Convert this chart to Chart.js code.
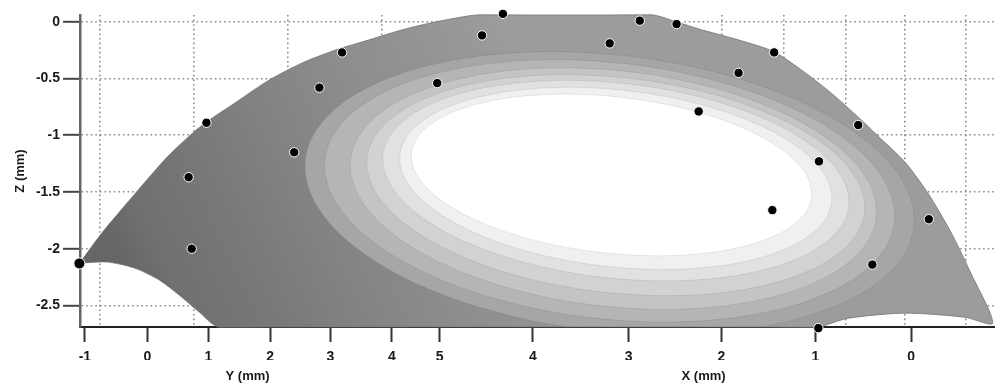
<!DOCTYPE html>
<html>
<head>
<meta charset="utf-8">
<title>Perfil Z</title>
<script src="https://cdn.jsdelivr.net/npm/chart.js@4.4.1/dist/chart.umd.min.js"></script>
<style>
    html, body { margin: 0; padding: 0; background: #fff; }
    canvas { display: block; }
</style>
</head>
<body>
<canvas id="grafico" width="1001" height="387"></canvas>
<script>
//Eje horizontal desplegado: primero Y (mm) y luego X (mm)
const tickPos = [-1.02, 0, 0.99, 2.0, 2.98, 3.98, 4.76, 6.28, 7.84, 9.35, 10.88, 12.44];
const tickText = ['-1', '0', '1', '2', '3', '4', '5', '4', '3', '2', '1', '0'];
const axisNames = ['Y (mm)', 'X (mm)'];
const axisNamePos = [1.63, 9.06];
const zTicks = [0, -0.5, -1, -1.5, -2, -2.5];
//Lineas punteadas verticales de la rejilla
const gridPos = [-0.78, 0.75, 2.28, 3.82, 9.35, 10.36, 11.37, 12.34, 13.33];

//Contorno de la superficie
const outlineS = [-1.106, -0.732, -0.179, 0.244, 0.520, 0.894, 1.447, 1.984, 2.520, 3.073, 3.610, 4.146, 4.699, 5.236,
    5.40, 8.211, 8.618, 8.976, 9.626, 10.211, 10.764, 11.138, 11.577, 11.902, 12.341, 12.715, 13.089, 13.415, 13.772,
    13.317, 12.341, 11.415, 10.878, 1.171, 0.846, 0.520, 0.195, -0.211, -0.650, -1.106];
const outlineZ = [-2.127, -1.853, -1.500, -1.236, -1.086, -0.909, -0.706, -0.512, -0.362, -0.247, -0.159, -0.071, 0.000, 0.053,
    0.062, 0.062, 0.000, -0.062, -0.159, -0.265, -0.468, -0.627, -0.838, -1.006, -1.236, -1.510, -1.853, -2.215, -2.657,
    -2.604, -2.568, -2.613, -2.692, -2.692, -2.560, -2.410, -2.277, -2.171, -2.118, -2.127];

//Puntos medidos
const dotS = [-1.11, 0.67, 0.72, 0.96, 2.39, 2.80, 3.17, 4.72, 5.45, 5.79, 7.53, 8.02, 8.62, 8.98, 9.63, 10.21,
    10.94, 11.58, 10.18, 12.73, 11.81, 10.93];
const dotZ = [-2.13, -1.37, -2.00, -0.89, -1.15, -0.58, -0.27, -0.54, -0.12, 0.07, -0.19, 0.01, -0.02, -0.79, -0.45, -0.27,
    -1.23, -0.91, -1.66, -1.74, -2.14, -2.70];

//Curvas de nivel (de la exterior a la interior)
const ringS = [7.53, 7.53, 7.59, 7.63, 7.63, 7.63, 7.56];
const ringZ = [-1.51, -1.49, -1.47, -1.44, -1.40, -1.38, -1.35];
const ringHalfS = [4.99, 4.67, 4.31, 4.08, 3.82, 3.54, 3.28];
const ringHalfZ = [1.22, 1.13, 1.04, 0.95, 0.86, 0.78, 0.69];
const ringLevel = [1, 2, 3, 4, 5, 6, 7];

const sMin = -1.1, sMax = 13.8;
const fuente = "'Liberation Sans', Arial, sans-serif";

function puntos(xs, ys) {
    return xs.map(function(v, i) { return {x: v, y: ys[i]}; });
}

//Plugin para rellenar la superficie con sombreado por niveles
const sombreado = {
    id: 'sombreado',
    beforeDatasetDraw(chart, args) {
        if (args.index !== 0) return;
        const ctx = chart.ctx;
        const x = chart.scales.x, y = chart.scales.y;
        const linea = args.meta.dataset;
        linea.updateControlPoints(chart.chartArea, 'x');
        ctx.save();
        ctx.beginPath();
        linea.path(ctx);
        ctx.closePath();
        ctx.clip();

        let g = ctx.createLinearGradient(x.getPixelForValue(0.05), y.getPixelForValue(-2.63),
            x.getPixelForValue(6.7), y.getPixelForValue(-0.95));
        g.addColorStop(0, '#666666');
        g.addColorStop(0.08, '#707070');
        g.addColorStop(0.25, '#787878');
        g.addColorStop(0.45, '#848484');
        g.addColorStop(0.65, '#8e8e8e');
        g.addColorStop(0.85, '#969696');
        g.addColorStop(1, '#9c9c9c');
        ctx.fillStyle = g;
        ctx.fillRect(0, 0, chart.width, chart.height);

        const kx = x.getPixelForValue(1) - x.getPixelForValue(0);
        const ky = y.getPixelForValue(0) - y.getPixelForValue(1);
        for (let i = 0; i < ringS.length; i++) {
            const v = Math.min(255, Math.round(166 + 14.8 * (ringLevel[i] - 1)));
            ctx.beginPath();
            ctx.ellipse(x.getPixelForValue(ringS[i]), y.getPixelForValue(ringZ[i]),
                ringHalfS[i] * kx, ringHalfZ[i] * ky, 0.11, 0, Math.PI * 2);
            ctx.fillStyle = 'rgb(' + v + ',' + v + ',' + v + ')';
            ctx.fill();
            ctx.strokeStyle = 'rgba(0,0,0,0.08)';
            ctx.lineWidth = 1;
            ctx.stroke();
        }
        ctx.restore();
    }
};

var context = document.getElementById('grafico');
var grafico = new Chart(context, {
    type: 'scatter',
    data: {
        datasets: [
            {
                label: 'superficie',
                data: puntos(outlineS, outlineZ),
                showLine: true,
                tension: 0.25,
                borderColor: 'rgba(110,110,110,0.7)',
                borderWidth: 1,
                pointRadius: 0,
                pointHoverRadius: 0,
                fill: false,
                clip: false,
                order: 2
            },
            {
                label: 'puntos',
                data: puntos(dotS, dotZ),
                backgroundColor: '#000',
                borderColor: '#fff',
                borderWidth: 1,
                pointRadius: function(c) { return c.dataIndex === 0 ? 5.5 : 4.7; },
                pointHoverRadius: function(c) { return c.dataIndex === 0 ? 5.5 : 4.7; },
                clip: false,
                order: 1
            }
        ]
    },
    plugins: [sombreado],
    options: {
        responsive: false,
        animation: false,
        devicePixelRatio: 1,
        layout: { padding: { top: 15, right: 4, left: 0, bottom: 0 } },
        plugins: {
            legend: { display: false },
            tooltip: { enabled: false }
        },
        scales: {
            x: {
                type: 'linear', position: 'bottom', min: sMin, max: sMax, z: 1,
                afterBuildTicks: function(s) { s.ticks = tickPos.map(function(v) { return {value: v}; }); },
                afterFit: function(s) { s.height = 33; },
                grid: { drawOnChartArea: false, tickLength: 15, tickWidth: 2, tickColor: '#333' },
                border: { color: '#222', width: 2 },
                ticks: {
                    autoSkip: false, maxRotation: 0, padding: 7, color: '#1a1a1a',
                    font: { family: fuente, size: 14, weight: 'bold' },
                    callback: function(v, i) { return tickText[i]; }
                }
            },
            xt: {
                type: 'linear', position: 'bottom', min: sMin, max: sMax,
                afterBuildTicks: function(s) { s.ticks = axisNamePos.map(function(v) { return {value: v}; }); },
                afterFit: function(s) { s.height = 27; },
                grid: { display: false },
                border: { display: false },
                ticks: {
                    autoSkip: false, maxRotation: 0, padding: 1, color: '#1a1a1a',
                    font: { family: fuente, size: 13, weight: 'bold' },
                    callback: function(v, i) { return axisNames[i]; }
                }
            },
            xg: {
                type: 'linear', position: 'top', min: sMin, max: sMax,
                afterBuildTicks: function(s) { s.ticks = gridPos.map(function(v) { return {value: v}; }); },
                afterFit: function(s) { s.height = 0; },
                grid: { color: '#8c8c8c', lineWidth: 1.6, drawTicks: false },
                border: { display: false, dash: [1.6, 3] },
                ticks: { display: false }
            },
            y: {
                type: 'linear', min: -2.69, max: 0.06,
                afterBuildTicks: function(s) { s.ticks = zTicks.map(function(v) { return {value: v}; }); },
                afterFit: function(s) { s.width = 80; },
                grid: { color: '#8c8c8c', lineWidth: 1.6, tickLength: 17, tickWidth: 2, tickColor: '#444' },
                border: { color: '#666', width: 2.5, dash: [1.6, 3] },
                title: {
                    display: true, text: 'Z (mm)', color: '#1a1a1a',
                    font: { family: fuente, size: 13, weight: 'bold' },
                    padding: { top: 13, bottom: 0 }
                },
                ticks: {
                    padding: 3, color: '#1a1a1a',
                    font: { family: fuente, size: 14, weight: 'bold' },
                    callback: function(v) { return String(v); }
                }
            }
        }
    }
});
</script>
</body>
</html>
